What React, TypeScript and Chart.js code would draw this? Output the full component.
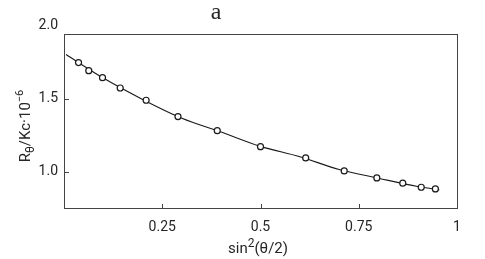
import React, { useEffect, useRef } from "react";
import { Chart, registerables } from "chart.js";
Chart.register(...registerables);

// measured data points: sin^2(theta/2) vs R_theta/Kc (x 10^-6)
const sinSqHalfTheta = [0.037, 0.063, 0.098, 0.143, 0.209, 0.29, 0.39, 0.5, 0.615, 0.713, 0.796, 0.862, 0.909, 0.945];
const rThetaOverKc = [1.749, 1.694, 1.646, 1.575, 1.491, 1.379, 1.283, 1.173, 1.096, 1.007, 0.959, 0.923, 0.895, 0.884];
// fitted curve
const fitX = [0.005, 0.1, 0.2, 0.3, 0.4, 0.5, 0.6, 0.7, 0.8, 0.9, 0.955];
const fitY = [1.805, 1.643, 1.497, 1.368, 1.273, 1.175, 1.104, 1.017, 0.957, 0.9, 0.877];
const xTickValues = [0.25, 0.5, 0.75, 1];
const yTickValues = [1.0, 1.5, 2.0];
const xRange = [0, 1];
const yRange = [0.753, 1.945];

const TEXT = "#262626";
const AXIS = "#444444";
const TICK_FONT = 'Roboto, "DejaVu Sans", sans-serif';

const decorPlugin = {
  id: "decor",
  afterDraw(chart: any) {
    const ctx = chart.ctx;
    const a = chart.chartArea;
    const xs = chart.scales.x;
    const ys = chart.scales.y;
    ctx.save();
    // frame
    ctx.strokeStyle = AXIS;
    ctx.lineWidth = 1;
    ctx.strokeRect(Math.round(a.left) + 0.5, Math.round(a.top) + 0.5, Math.round(a.right - a.left), Math.round(a.bottom - a.top));
    // inner tick marks
    ctx.beginPath();
    xTickValues.forEach((v) => {
      if (v <= xRange[0] || v >= xRange[1]) return;
      const px = Math.round(xs.getPixelForValue(v)) + 0.5;
      ctx.moveTo(px, a.bottom);
      ctx.lineTo(px, a.bottom - 4);
    });
    yTickValues.forEach((v) => {
      if (v <= yRange[0] || v >= yRange[1]) return;
      const py = Math.round(ys.getPixelForValue(v)) + 0.5;
      ctx.moveTo(a.left, py);
      ctx.lineTo(a.left + 5, py);
    });
    ctx.stroke();

    ctx.fillStyle = TEXT;
    // panel letter
    ctx.font = '24px "Liberation Serif", "DejaVu Serif", serif';
    ctx.textAlign = "center";
    ctx.textBaseline = "alphabetic";
    ctx.fillText("a", 216, 19);

    // rich text helper
    const drawRich = (parts: { t: string; size: number; dy: number }[], cx: number, baseline: number) => {
      let total = 0;
      parts.forEach((p) => {
        ctx.font = `${p.size}px ${TICK_FONT}`;
        total += ctx.measureText(p.t).width;
      });
      let x = cx - total / 2;
      ctx.textAlign = "left";
      parts.forEach((p) => {
        ctx.font = `${p.size}px ${TICK_FONT}`;
        ctx.fillText(p.t, x, baseline + p.dy);
        x += ctx.measureText(p.t).width;
      });
    };

    // x axis title
    drawRich(
      [
        { t: "sin", size: 15, dy: 0 },
        { t: "2", size: 12, dy: -6 },
        { t: "(θ/2)", size: 15, dy: 0 },
      ],
      258,
      253
    );

    // y axis title (rotated)
    ctx.save();
    ctx.translate(30, 126);
    ctx.rotate(-Math.PI / 2);
    drawRich(
      [
        { t: "R", size: 15, dy: 0 },
        { t: "θ", size: 12, dy: 4 },
        { t: "/Kc·10", size: 15, dy: 0 },
        { t: "−6", size: 11, dy: -7 },
      ],
      0,
      0
    );
    ctx.restore();
    ctx.restore();
  },
};

export default function App() {
  const ref = useRef<HTMLCanvasElement | null>(null);
  useEffect(() => {
    document.body.style.margin = "0";
    document.body.style.background = "#ffffff";
    const chart = new Chart(ref.current as HTMLCanvasElement, {
      type: "scatter",
      data: {
        datasets: [
          {
            label: "data",
            data: sinSqHalfTheta.map((x, i) => ({ x, y: rThetaOverKc[i] })),
            showLine: false,
            pointRadius: 3,
            pointBorderWidth: 1.2,
            pointBackgroundColor: "#ffffff",
            pointBorderColor: "#1a1a1a",
            order: 0,
          },
          {
            label: "fit",
            data: fitX.map((x, i) => ({ x, y: fitY[i] })),
            showLine: true,
            borderColor: "#1a1a1a",
            borderWidth: 1.1,
            pointRadius: 0,
            cubicInterpolationMode: "monotone",
            order: 1,
          },
        ],
      },
      options: {
        animation: false,
        responsive: false,
        events: [],
        layout: { padding: { left: 0, right: 28, top: 34, bottom: 0 } },
        plugins: { legend: { display: false }, tooltip: { enabled: false }, title: { display: false } },
        scales: {
          x: {
            type: "linear",
            min: xRange[0],
            max: xRange[1],
            grid: { display: false, drawTicks: false },
            border: { display: false },
            afterBuildTicks: (s: any) => {
              s.ticks = xTickValues.map((value) => ({ value }));
            },
            afterFit: (s: any) => {
              s.height = 51;
            },
            ticks: {
              autoSkip: false,
              maxRotation: 0,
              padding: 11,
              color: TEXT,
              font: { family: TICK_FONT, size: 14 },
              callback: (v: any) => String(v),
            },
          },
          y: {
            type: "linear",
            min: yRange[0],
            max: yRange[1],
            grid: { display: false, drawTicks: false },
            border: { display: false },
            afterBuildTicks: (s: any) => {
              s.ticks = yTickValues.map((value) => ({ value }));
            },
            afterFit: (s: any) => {
              s.width = 64;
            },
            ticks: {
              autoSkip: false,
              padding: 6,
              color: TEXT,
              font: { family: TICK_FONT, size: 14 },
              callback: (v: any) => Number(v).toFixed(1),
            },
          },
        },
      },
      plugins: [decorPlugin],
    } as any);
    return () => chart.destroy();
  }, []);
  return (
    <div style={{ position: "fixed", left: 0, top: 0, width: 485, height: 259, background: "#fff" }}>
      <canvas ref={ref} width={485} height={259} />
    </div>
  );
}
